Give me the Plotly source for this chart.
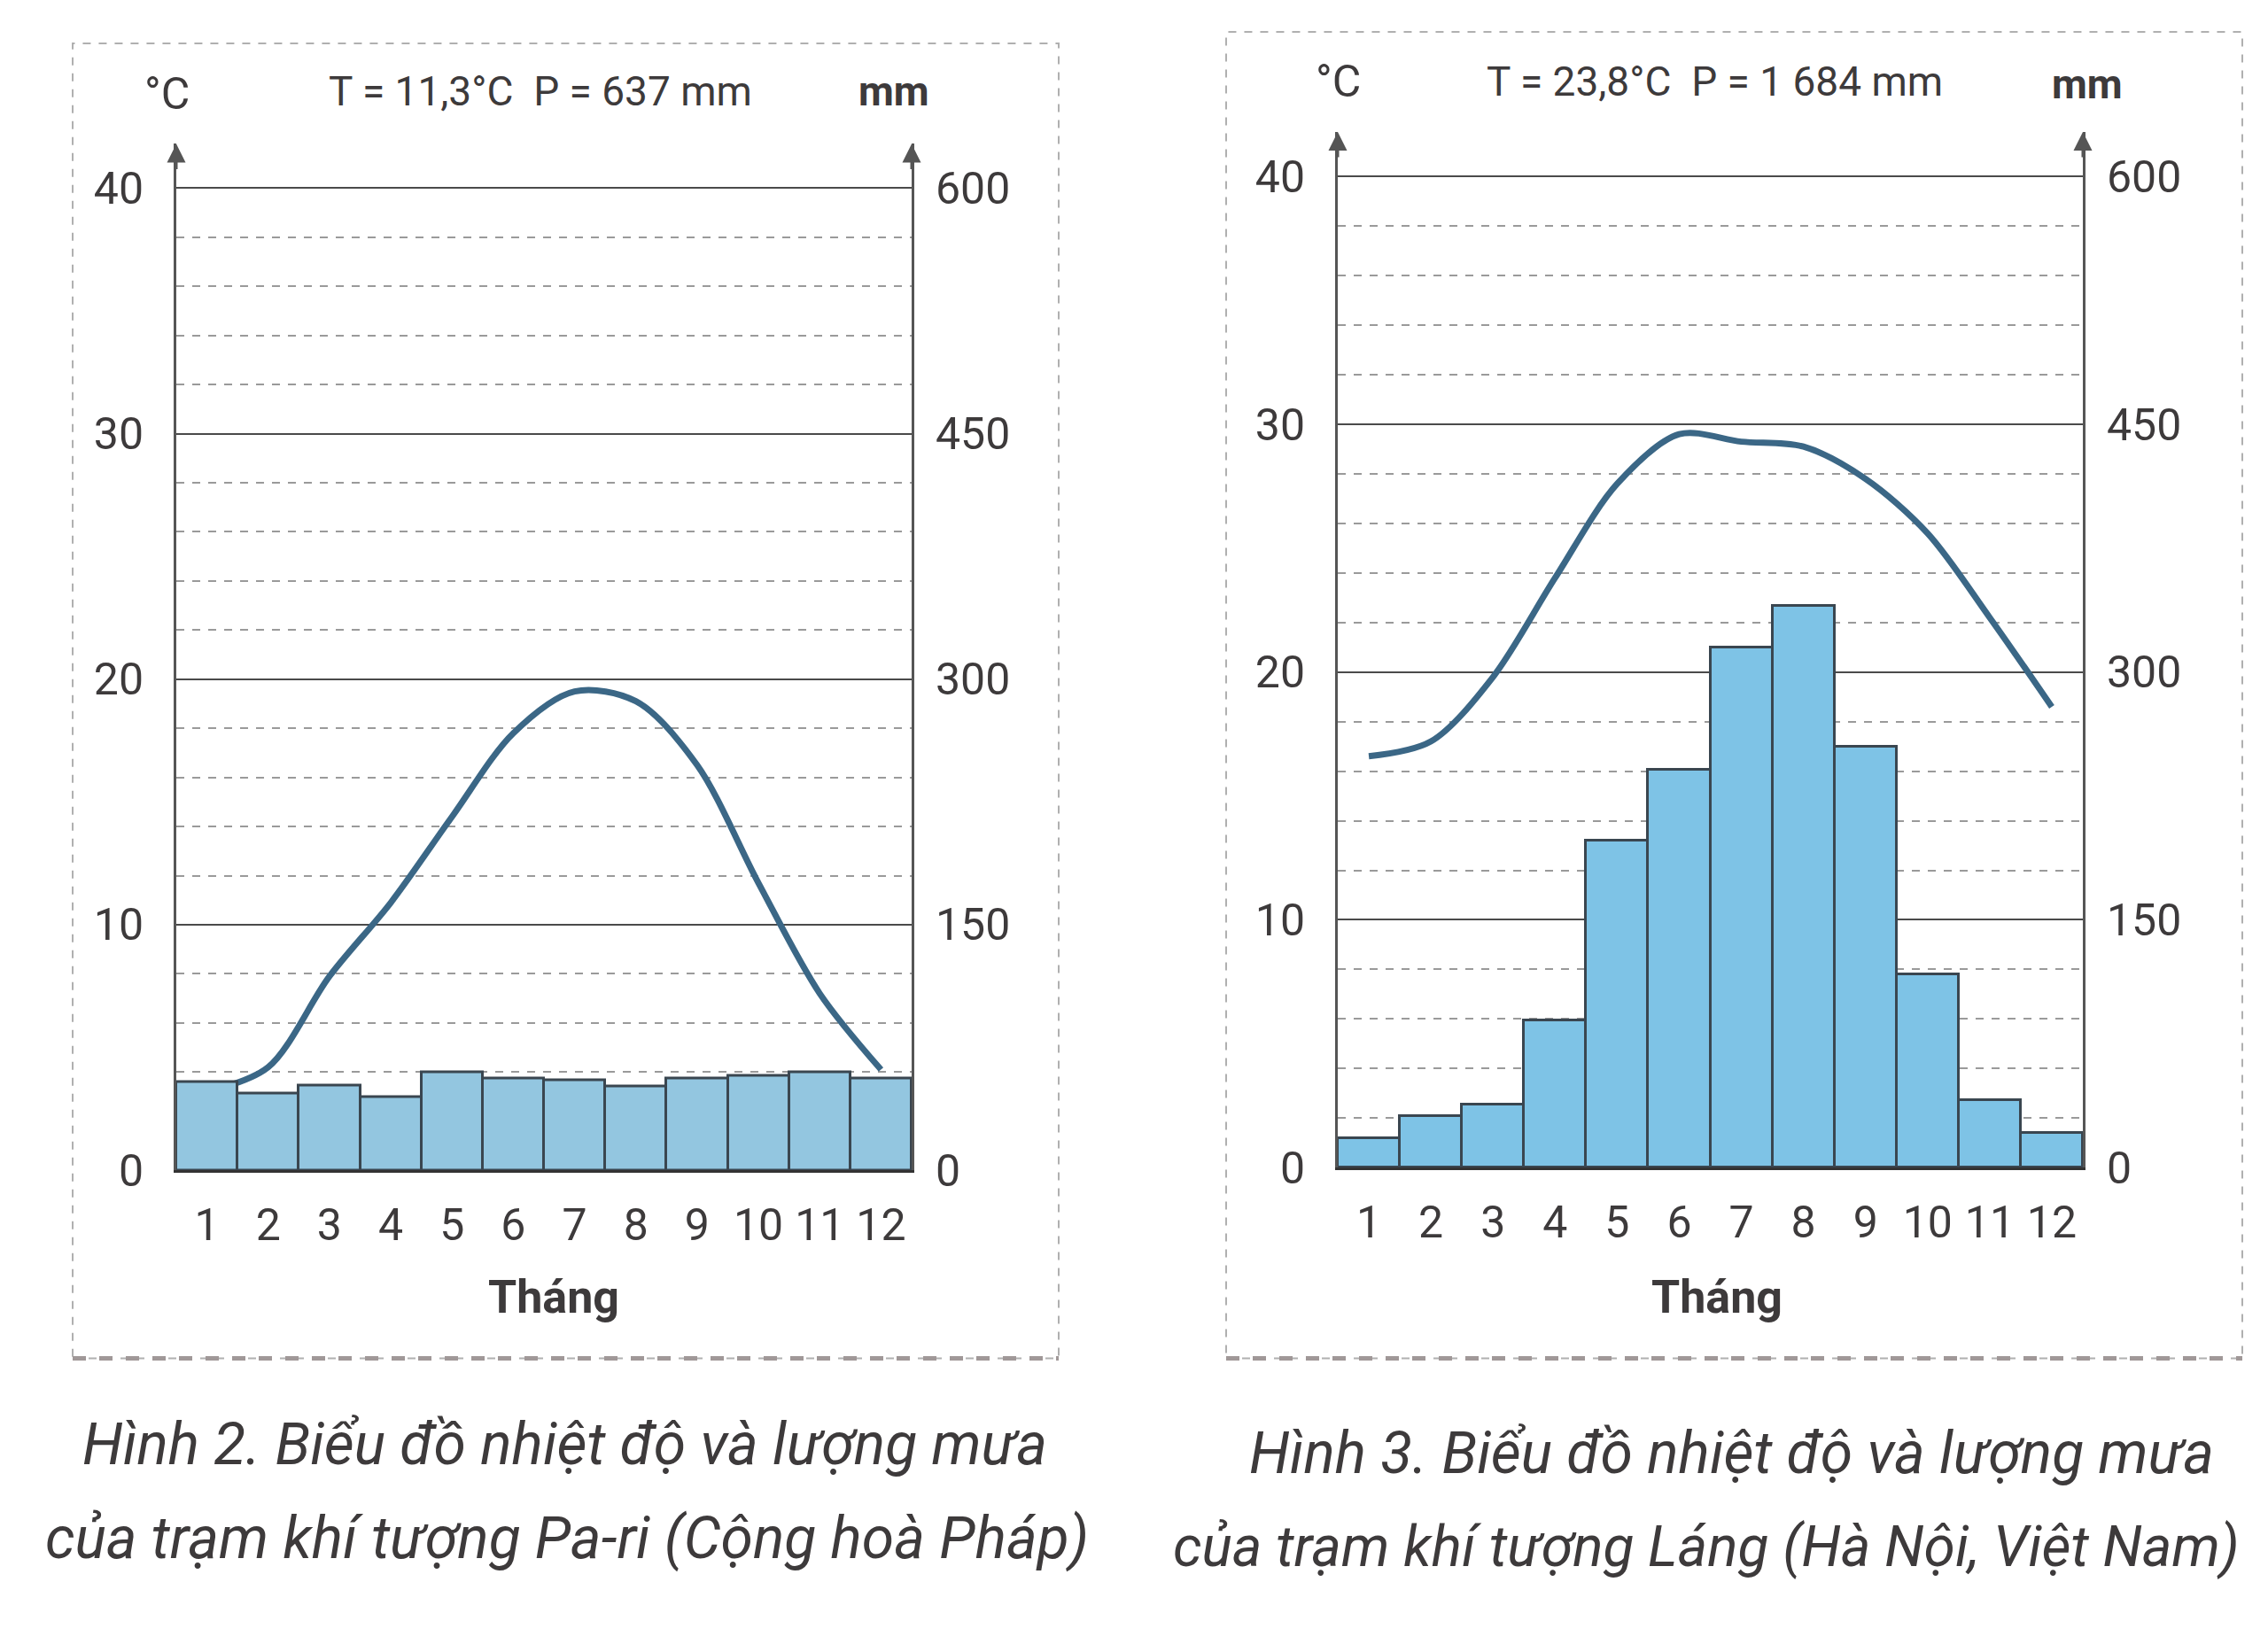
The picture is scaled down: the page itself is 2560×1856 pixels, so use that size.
import plotly.graph_objects as go

# months
months = list(range(1, 13))
month_labels = [str(m) for m in months]

# Pa-ri (Paris)
paris_temp = [3.2, 4.2, 7.9, 10.9, 14.4, 17.8, 19.5, 19.1, 16.5, 11.7, 7.2, 4.1]
paris_rain = [54, 47, 52, 45, 60, 56, 55, 51, 56, 58, 60, 56]

# Láng (Hà Nội)
lang_temp = [16.6, 17.2, 19.8, 23.8, 27.6, 29.6, 29.3, 29.1, 27.8, 25.6, 22.2, 18.6]
lang_rain = [18, 31, 38, 89, 198, 241, 315, 340, 255, 117, 41, 21]

temp_ticks = [0, 10, 20, 30, 40]
rain_ticks = [0, 150, 300, 450, 600]

TXT = "#3d3a3b"
FONT = "Roboto, sans-serif"
LINE = "#3b6786"
EDGE = "#3a4650"
TICK = 50

W, H = 2560, 1856
HE = 1823  # effective height used for placing things vertically
top_t = 41.8

fig = go.Figure()

# Paris
fig.add_trace(go.Bar(x=months, y=paris_rain, xaxis="x", yaxis="y2", width=1,
                     marker=dict(color="#93c6e0", line=dict(color=EDGE, width=3))))
fig.add_trace(go.Scatter(x=months, y=paris_temp, xaxis="x", yaxis="y", mode="lines",
                         line=dict(color=LINE, width=7, shape="spline", smoothing=0.9)))
# Lang
fig.add_trace(go.Bar(x=months, y=lang_rain, xaxis="x2", yaxis="y4", width=1,
                     marker=dict(color="#7ec3e6", line=dict(color=EDGE, width=3))))
fig.add_trace(go.Scatter(x=months, y=lang_temp, xaxis="x2", yaxis="y3", mode="lines",
                         line=dict(color=LINE, width=7, shape="spline", smoothing=0.9)))


def xax(domain, anchor):
    return dict(domain=domain, anchor=anchor, range=[0.5, 12.5], tickmode="array",
                tickvals=months, ticktext=month_labels, tickangle=0,
                showgrid=False, zeroline=False,
                showline=True, linecolor="#333333", linewidth=3,
                ticks="outside", ticklen=16, tickcolor="rgba(0,0,0,0)",
                tickfont=dict(family=FONT, size=TICK, color=TXT))


def yax_t(domain, anchor):
    return dict(domain=domain, anchor=anchor, range=[0, top_t], tickvals=temp_ticks,
                showgrid=True, gridcolor="#4a4a4a", gridwidth=2, zeroline=False,
                showline=True, linecolor="#555555", linewidth=3,
                ticks="outside", ticklen=24, tickcolor="rgba(0,0,0,0)",
                tickfont=dict(family=FONT, size=TICK, color=TXT),
                minor=dict(dtick=2, showgrid=True, gridcolor="#9a9a9a", griddash="dash", gridwidth=2))


def yax_r(anchor, overlay):
    return dict(overlaying=overlay, anchor=anchor, side="right", range=[0, top_t * 15],
                tickvals=rain_ticks, showgrid=False, zeroline=False,
                showline=True, linecolor="#555555", linewidth=3,
                ticks="outside", ticklen=14, tickcolor="rgba(0,0,0,0)",
                tickfont=dict(family=FONT, size=TICK, color=TXT))


def ydom(y40, y0):
    top = y0 - (y0 - y40) / 40 * top_t
    return [1 - y0 / HE, 1 - top / HE]


px1 = [199 / W, 1029 / W]
py1 = ydom(212, 1319)
px2 = [1510 / W, 2351 / W]
py2 = ydom(199, 1316)

fig.update_layout(
    width=W, height=H, margin=dict(l=0, r=0, t=0, b=0),
    paper_bgcolor="white", plot_bgcolor="white", showlegend=False, bargap=0,
    xaxis=xax(px1, "y"), yaxis=yax_t(py1, "x"), yaxis2=yax_r("x", "y"),
    xaxis2=xax(px2, "y3"), yaxis3=yax_t(py2, "x2"), yaxis4=yax_r("x2", "y3"),
)

ann = []
# arrow heads on the vertical axes
for xr, yr in [("x domain", "y domain"), ("x2 domain", "y3 domain")]:
    for xv in [0, 1]:
        ann.append(dict(x=xv, y=1.0, xref=xr, yref=yr, ax=0, ay=30, text="",
                        showarrow=True, arrowhead=2, arrowsize=1.4, arrowwidth=3,
                        arrowcolor="#555555"))


def txt(x, y, s, size=TICK, bold=False, italic=False, anchor="center"):
    t = "<b>" + s + "</b>" if bold else s
    if italic:
        t = "<i>" + t + "</i>"
    ann.append(dict(x=x / W, y=1 - y / HE, xref="paper", yref="paper", text=t,
                    showarrow=False, xanchor=anchor, yanchor="middle",
                    font=dict(family=FONT, size=size, color=TXT)))


txt(188, 106, "°C")
txt(610, 103, "T = 11,3°C  P = 637 mm", size=46)
txt(1009, 103, "mm", bold=True, size=46)
txt(625, 1462, "Tháng", bold=True, size=52)
txt(1510, 92, "°C")
txt(1935, 92, "T = 23,8°C  P = 1 684 mm", size=46)
txt(2356, 95, "mm", bold=True, size=46)
txt(1938, 1462, "Tháng", bold=True, size=52)

CAP = 66
txt(637, 1628, "Hình 2. Biểu đồ nhiệt độ và lượng mưa", size=CAP, italic=True)
txt(640, 1734, "của trạm khí tượng Pa-ri (Cộng hoà Pháp)", size=CAP, italic=True)
txt(1954, 1638, "Hình 3. Biểu đồ nhiệt độ và lượng mưa", size=CAP, italic=True)
txt(1322, 1744, "của trạm khí tượng Láng (Hà Nội, Việt Nam)", size=64, italic=True, anchor="left")

fig.update_layout(annotations=ann)

# dashed frames around each chart
shapes = []
for x0, x1, y0, y1 in [(82, 1195, 49, 1531), (1384, 2531, 36, 1531)]:
    shapes.append(dict(type="rect", xref="paper", yref="paper",
                       x0=x0 / W, x1=x1 / W, y0=1 - y1 / HE, y1=1 - y0 / HE,
                       line=dict(color="#b0b0b0", width=2, dash="dash")))
    shapes.append(dict(type="line", xref="paper", yref="paper",
                       x0=x0 / W, x1=x1 / W, y0=1 - y1 / HE, y1=1 - y1 / HE,
                       line=dict(color="#a09898", width=5, dash="dash")))
fig.update_layout(shapes=shapes)

fig.write_html("out.html", config={"displayModeBar": False},
               post_script="document.body.style.margin='0';")
